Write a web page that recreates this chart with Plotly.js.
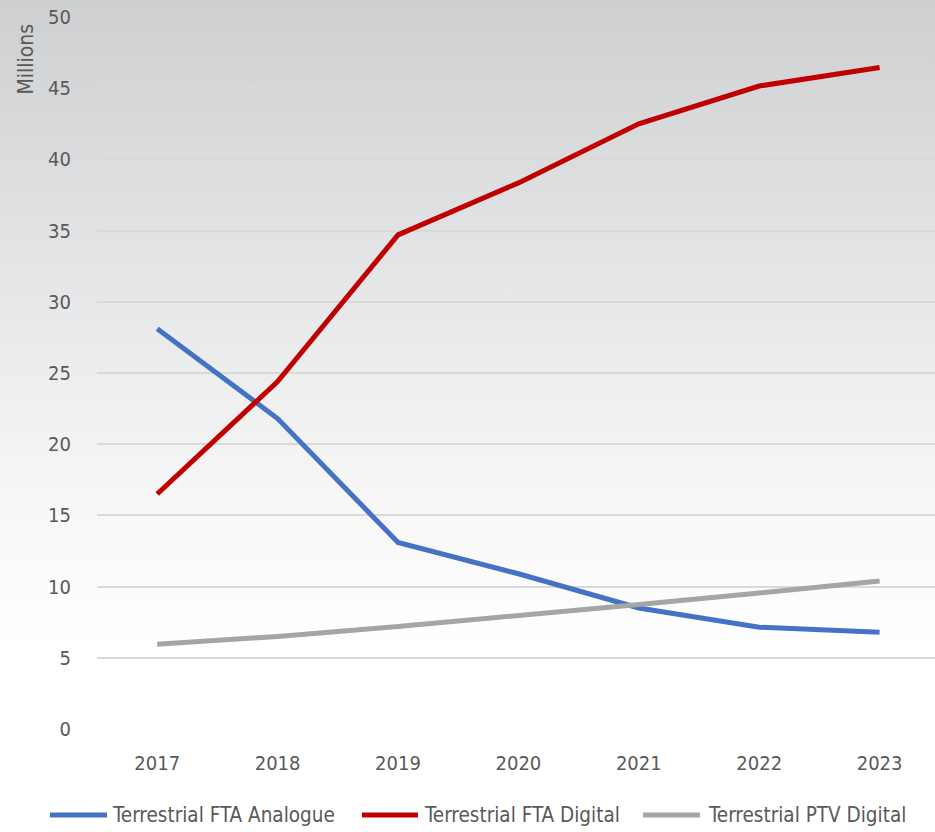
<!DOCTYPE html>
<html>
<head>
<meta charset="utf-8">
<script src="https://cdn.plot.ly/plotly-3.0.1.min.js"></script>
<style>
html,body{margin:0;padding:0;}
body{width:935px;height:832px;background:linear-gradient(to bottom,#cecfd1 0%,#e6e7e8 35%,#f7f7f7 60%,#ffffff 78%,#ffffff 100%);}
#chart{width:935px;height:832px;}
</style>
</head>
<body>
<div id="chart"></div>
<script>
const years = ['2017','2018','2019','2020','2021','2022','2023'];
const analogue = [28.1, 21.8, 13.1, 10.9, 8.5, 7.15, 6.8];
const ftaDigital = [16.5, 24.4, 34.7, 38.35, 42.5, 45.15, 46.45];
const ptvDigital = [5.95, 6.5, 7.2, 7.95, 8.75, 9.55, 10.4];
const names = ['Terrestrial FTA Analogue','Terrestrial FTA Digital','Terrestrial PTV Digital'];
const colors = ['#4472C4','#C00000','#A5A5A5'];
const font = 'DejaVu Sans Condensed, Liberation Sans Narrow, sans-serif';

const traces = [analogue, ftaDigital, ptvDigital].map((v,i)=>({
  x: years, y: v, type:'scatter', mode:'lines', name: names[i], showlegend:false,
  line:{color:colors[i], width:5, shape:'linear'}
}));

// manual legend placement (pixels -> paper)
const L = 97, W = 838, T = 17, H = 712;
const px = p => (p - L) / W;
const py = p => (T + H - p) / H;
const legY = 815;
const legItems = [[50,107,110],[362,418,422],[643,700,706]];
const shapes = legItems.map((it,i)=>({type:'line', xref:'paper', yref:'paper', x0:px(it[0]), x1:px(it[1]), y0:py(legY), y1:py(legY), line:{color:colors[i], width:5}}));
const annotations = legItems.map((it,i)=>({text:names[i], xref:'paper', yref:'paper', x:px(it[2]), y:py(legY), xanchor:'left', yanchor:'middle', showarrow:false, font:{size:20.5, color:'#595959'}}));
annotations.push({text:'Millions', textangle:-90, xref:'paper', yref:'paper', x:px(25), y:py(22), xanchor:'center', yanchor:'top', showarrow:false, font:{size:21, color:'#595959'}});

const layout = {
  width:935, height:832,
  paper_bgcolor:'rgba(0,0,0,0)', plot_bgcolor:'rgba(0,0,0,0)',
  margin:{l:L, r:0, t:T, b:103},
  font:{family:font, color:'#595959', size:20},
  showlegend:false,
  xaxis:{type:'category', range:[-0.5,6.46], showgrid:false, zeroline:false, showline:false, ticks:'outside', ticklen:16, tickcolor:'rgba(0,0,0,0)', tickfont:{size:20, color:'#595959'}},
  yaxis:{range:[0,50], dtick:5, showgrid:true, gridcolor:'#d9d9d9', gridwidth:1.5, zeroline:false, showline:false, ticks:'outside', ticklen:21, tickcolor:'rgba(0,0,0,0)', tickfont:{size:20, color:'#595959'}},
  shapes: shapes,
  annotations: annotations
};
Plotly.newPlot('chart', traces, layout, {displayModeBar:false});
</script>
</body>
</html>
